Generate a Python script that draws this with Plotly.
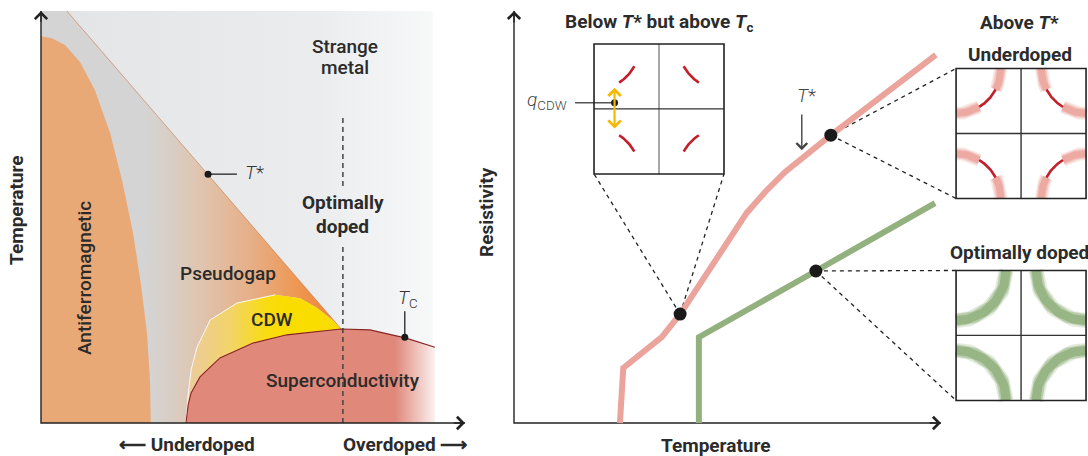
import numpy as np
import plotly.graph_objects as go

W, H = 1088, 456

# ---------------- data: left panel (doping vs temperature, schematic units) ----------------
afm_doping = [0, 2.6, 5.7, 9.2, 12.7, 16.3, 19.1, 21.7, 23.6, 25.0, 25.7, 25.9]
afm_temp = [93.9, 93.4, 91.7, 87.6, 80.8, 70.4, 59.0, 46.1, 33.5, 21.8, 10.4, 0]
tstar_doping = [6.1, 70.8]
tstar_temp = [100, 22.8]
cdw_doping = [34.2, 34.7, 35.4, 36.8, 39.9, 46.2, 55.2, 61.1, 65.1, 68.9, 70.8]
cdw_temp = [0, 6.8, 12.9, 18.4, 25.0, 29.1, 31.1, 30.3, 27.9, 24.8, 22.8]
sc_doping = [34.2, 34.7, 35.4, 37.5, 42.2, 50.0, 58.0, 70.8, 77.6, 86.1, 92.9]
sc_temp = [0, 4.4, 7.3, 11.2, 15.8, 19.4, 21.4, 22.8, 22.6, 20.6, 18.4]
optimal_doping = 71.2
tstar_mark = (39.4, 60.4)
tc_mark = (85.8, 20.8)

# ---------------- data: right panel (temperature vs resistivity) ----------------
under_T = [24.8, 25.6, 34.6, 38.9, 54.5, 58.8, 63.5, 74.2, 98.8]
under_rho = [0, 12.9, 20.1, 25.5, 49.2, 54.1, 58.8, 67.4, 86.2]
opt_T = [43.3, 43.3, 70.7, 98.6]
opt_rho = [0, 20.1, 35.6, 51.5]
cdw_point = (38.9, 25.5)
tstar_point = (74.2, 67.4)
opt_point = (70.7, 35.6)

# Fermi-surface schematic: arc radius (fraction of half Brillouin zone) and angle spans (deg)
cdw_arc_r, cdw_arc_span = 0.71, (29, 57)
under_arc_r, under_red_span, under_pink_spans = 0.69, (28, 59), [(0, 28), (59, 90)]
opt_arc_r, opt_span = 0.77, (0, 90)

# ---------------- layout constants ----------------
SX_L, SY_L = 4.24, 4.12     # px per unit, left
S_R = 4.27                  # px per unit, right
HALF = 15.22                # inset half size (right-panel units)
C_CDW = (33.96, 73.55)
C_UND = (118.75, 67.8)
C_OPT = (118.75, 20.5)

INK = "#2b2b2b"
FONT = "Roboto"

fig = go.Figure()
L = dict(xaxis="x", yaxis="y")
R = dict(xaxis="x2", yaxis="y2")

def poly(xs, ys, **kw):
    return go.Scatter(x=xs, y=ys, mode="lines", fill="toself", line=dict(width=0),
                      hoverinfo="skip", showlegend=False, **kw)

# strange metal background
fig.add_trace(poly([0, 0, 92.4, 92.4], [0, 100, 100, 0],
                   fillgradient=dict(type="horizontal", start=0, stop=92.4,
                                     colorscale=[[0, "#E3E4E6"], [0.7, "#EBECEE"], [0.88, "#F2F3F4"],
                                                 [1, "#F7F8F8"]]), **L))
# pseudogap
pg_x = [0, 0] + tstar_doping + cdw_doping[::-1]
pg_y = [0, 100] + tstar_temp + cdw_temp[::-1]
fig.add_trace(poly(pg_x, pg_y,
                   fillgradient=dict(type="horizontal", start=24.0, stop=65.6,
                                     colorscale=[[0, "#D4D4D4"], [0.05, "#D5D3D1"], [0.32, "#DFC5B0"],
                                                 [0.61, "#E6AF88"], [0.89, "#EE9650"], [1, "#EF8C40"]]), **L))
# antiferromagnet
fig.add_trace(poly(afm_doping + [0], afm_temp + [0], fillcolor="#E8A977", **L))
# CDW
cdw_px = cdw_doping + sc_doping[:8][::-1]
cdw_py = cdw_temp + sc_temp[:8][::-1]
fig.add_trace(poly(cdw_px, cdw_py,
                   fillgradient=dict(type="horizontal", start=34.2, stop=58,
                                     colorscale=[[0, "#EBCBA2"], [0.45, "#F2D466"], [0.8, "#F9DC10"], [1, "#FADD00"]]), **L))
# superconductivity
fig.add_trace(poly(sc_doping + [sc_doping[-1]], sc_temp + [0],
                   fillgradient=dict(type="horizontal", start=34.2, stop=93.0,
                                     colorscale=[[0, "#E0887A"], [0.84, "#E0897B"], [1, "#FBF2F0"]]), **L))
# edges
fig.add_trace(go.Scatter(x=tstar_doping, y=tstar_temp, mode="lines",
                         line=dict(color="rgba(196,110,60,0.55)", width=1), hoverinfo="skip", showlegend=False, **L))
fig.add_trace(go.Scatter(x=cdw_doping[:7], y=cdw_temp[:7], mode="lines",
                         line=dict(color="rgba(255,255,255,0.85)", width=1), hoverinfo="skip", showlegend=False, **L))
fig.add_trace(go.Scatter(x=sc_doping, y=sc_temp, mode="lines",
                         line=dict(color="#8A2323", width=1.1), hoverinfo="skip", showlegend=False, **L))
# optimal doping dashed line
fig.add_trace(go.Scatter(x=[optimal_doping] * 5, y=[74.0, 57.3, None, 42.7, 0], mode="lines",
                         line=dict(color="#444", width=1.5, dash="5px,4px"), hoverinfo="skip", showlegend=False, **L))
# T* and Tc markers
fig.add_trace(go.Scatter(x=[tstar_mark[0], tstar_mark[0] + 6.8], y=[tstar_mark[1]] * 2, mode="lines",
                         line=dict(color="#222", width=1.3), hoverinfo="skip", showlegend=False, **L))
fig.add_trace(go.Scatter(x=[tc_mark[0]] * 2, y=[tc_mark[1], tc_mark[1] + 6.3], mode="lines",
                         line=dict(color="#222", width=1.3), hoverinfo="skip", showlegend=False, **L))
fig.add_trace(go.Scatter(x=[tstar_mark[0], tc_mark[0]], y=[tstar_mark[1], tc_mark[1]], mode="markers",
                         marker=dict(color="#1a1a1a", size=7), hoverinfo="skip", showlegend=False, **L))
# left axes
fig.add_trace(go.Scatter(x=[0, 0, 100], y=[100, 0, 0], mode="lines",
                         line=dict(color="#222", width=1.4), hoverinfo="skip", showlegend=False, **L))

# ---------------- right panel ----------------
fig.add_trace(go.Scatter(x=[0, 0, 100], y=[96.5, 0, 0], mode="lines",
                         line=dict(color="#222", width=1.4), hoverinfo="skip", showlegend=False, **R))

def box_xy(c):
    return c[0] - HALF, c[0] + HALF, c[1] - HALF, c[1] + HALF

# dashed connectors
conn_x, conn_y = [], []
x0, x1, y0, y1 = box_xy(C_CDW)
for (px, py) in [(x0, y0), (x1, y0)]:
    conn_x += [cdw_point[0], px, None]; conn_y += [cdw_point[1], py, None]
x0, x1, y0, y1 = box_xy(C_UND)
for (px, py) in [(x0, y1), (x0, y0)]:
    conn_x += [tstar_point[0], px, None]; conn_y += [tstar_point[1], py, None]
x0, x1, y0, y1 = box_xy(C_OPT)
for (px, py) in [(x0, y1), (x0, y0)]:
    conn_x += [opt_point[0], px, None]; conn_y += [opt_point[1], py, None]
fig.add_trace(go.Scatter(x=conn_x, y=conn_y, mode="lines",
                         line=dict(color="#222", width=1.3, dash="4px,4px"), hoverinfo="skip", showlegend=False, **R))

fig.add_trace(go.Scatter(x=under_T, y=under_rho, mode="lines",
                         line=dict(color="#EBA49C", width=6), hoverinfo="skip", showlegend=False, **R))
fig.add_trace(go.Scatter(x=opt_T, y=opt_rho, mode="lines",
                         line=dict(color="#93B17E", width=6), hoverinfo="skip", showlegend=False, **R))
fig.add_trace(go.Scatter(x=[cdw_point[0], tstar_point[0], opt_point[0]],
                         y=[cdw_point[1], tstar_point[1], opt_point[1]], mode="markers",
                         marker=dict(color="#1a1a1a", size=13), hoverinfo="skip", showlegend=False, **R))

# inset arcs
CORNERS = [(-1, 1), (1, 1), (-1, -1), (1, -1)]

def arc(center, r, span, corner, n=40):
    th = np.radians(np.linspace(span[0], span[1], n))
    sx, sy = corner
    kx = sx * (1 - r * np.cos(th))
    ky = sy * (1 - r * np.sin(th))
    return center[0] + HALF * kx, center[1] + HALF * ky

def add_arcs(center, r, spans, color, widths_alpha):
    for w, a in widths_alpha:
        xs, ys = [], []
        for cn in CORNERS:
            for sp in spans:
                ax_, ay_ = arc(center, r, sp, cn)
                xs += list(ax_) + [None]; ys += list(ay_) + [None]
        fig.add_trace(go.Scatter(x=xs, y=ys, mode="lines", opacity=a,
                                 line=dict(color=color, width=w), hoverinfo="skip", showlegend=False, **R))

add_arcs(C_OPT, opt_arc_r, [opt_span], "#93B27F", [(15, 0.25), (12, 0.5), (9, 0.85)])
add_arcs(C_UND, under_arc_r, under_pink_spans, "#EBA39B", [(13, 0.25), (10, 0.45), (7, 0.8)])
add_arcs(C_UND, under_arc_r, [under_red_span], "#C41E2A", [(2.6, 1)])
add_arcs(C_CDW, cdw_arc_r, [cdw_arc_span], "#C41E2A", [(2.6, 1)])

shapes = []
for c, mid_col in [(C_CDW, "#777"), (C_UND, "#222"), (C_OPT, "#222")]:
    x0, x1, y0, y1 = box_xy(c)
    shapes.append(dict(type="line", xref="x2", yref="y2", x0=c[0], x1=c[0], y0=y0, y1=y1,
                       line=dict(color=mid_col, width=1.3)))
    shapes.append(dict(type="line", xref="x2", yref="y2", x0=x0, x1=x1, y0=c[1], y1=c[1],
                       line=dict(color="#333", width=1.3)))
    shapes.append(dict(type="rect", xref="x2", yref="y2", x0=x0, x1=x1, y0=y0, y1=y1,
                       line=dict(color="#222", width=1.6)))

# q_CDW marker
q_x, q_y = 23.55, 75.0
fig.add_trace(go.Scatter(x=[14.3, q_x], y=[q_y, q_y], mode="lines",
                         line=dict(color="#555", width=1.5), hoverinfo="skip", showlegend=False, **R))

anns = []

def txt(x, y, s, ref="", size=19, weight=500, color=INK, angle=0, xanchor="center"):
    anns.append(dict(x=x, y=y, xref="x" + ref, yref="y" + ref, text=s, showarrow=False,
                     textangle=angle, xanchor=xanchor, yanchor="middle",
                     font=dict(family=FONT, size=size, color=color, weight=weight)))

def arrow(x, y, ax, ay, ref, color="#222", width=1.4, size=1.7, side="end", head=4):
    anns.append(dict(x=x, y=y, ax=ax, ay=ay, xref="x" + ref, yref="y" + ref,
                     axref="x" + ref, ayref="y" + ref, text="", showarrow=True,
                     arrowhead=head, startarrowhead=head, arrowsize=size, startarrowsize=size,
                     arrowwidth=width, arrowcolor=color, arrowside=side, standoff=0, startstandoff=0))

# left labels
txt(71.7, 91.3, "Strange")
txt(71.7, 86.2, "metal")
txt(71.2, 53.4, "Optimally", weight=700)
txt(71.2, 47.6, "doped", weight=700)
txt(44.1, 36.4, "Pseudogap")
txt(54.5, 25.2, "CDW")
txt(71.2, 10.2, "Superconductivity")
txt(10.4, 35.2, "Antiferromagnetic", angle=-90)
txt(-5.9, 51.7, "Temperature", weight=700, angle=-90)
txt(47.6, 60.7, "<i>T</i>*", weight=300, color="#333", xanchor="left")
txt(86.6, 30.3, "<i>T</i><sub>C</sub>", weight=300, color="#333")
txt(34.4, -5.3, "⟵ Underdoped", weight=700)
txt(85.8, -5.3, "Overdoped ⟶", weight=700)
arrow(0, 100, 0, 97, "")
arrow(100, 0, 97, 0, "")

# right labels
txt(-6.6, 49.4, "Resistivity", ref="2", weight=700, angle=-90)
txt(47.3, -5.2, "Temperature", ref="2", weight=700)
txt(34.0, 93.9, "Below <i>T</i>* but above <i>T</i><sub>c</sub>", ref="2", weight=700)
txt(118.5, 93.9, "Above <i>T</i>*", ref="2", weight=700)
txt(118.5, 86.2, "Underdoped", ref="2", weight=700)
txt(118.5, 40.0, "Optimally doped", ref="2", weight=700)
txt(68.4, 76.8, "<i>T</i>*", ref="2", weight=300, color="#444")
txt(12.9, 75.6, "<i>q</i><sub>CDW</sub>", ref="2", weight=300, color="#444", xanchor="right")
arrow(67.4, 63.9, 67.4, 72.6, "2", color="#444", width=1.4, size=1.5)
arrow(0, 96.5, 0, 93.5, "2")
arrow(100, 0, 97, 0, "2")
arrow(q_x, 78.5, q_x, 68.6, "2", color="#F5B800", width=2.2, size=1.1, side="end+start")

fig.add_trace(go.Scatter(x=[q_x], y=[q_y], mode="markers", marker=dict(color="#1a1a1a", size=7),
                         hoverinfo="skip", showlegend=False, **R))

fig.update_layout(
    width=W, height=H, margin=dict(l=0, r=0, t=0, b=0),
    paper_bgcolor="white", plot_bgcolor="rgba(0,0,0,0)",
    showlegend=False,
    xaxis=dict(domain=[0, 468 / W], range=[-41 / SX_L, (468 - 41) / SX_L], visible=False, fixedrange=True),
    yaxis=dict(domain=[0, 1], range=[-33 / SY_L, 423 / SY_L], visible=False, fixedrange=True),
    xaxis2=dict(domain=[472 / W, 1], range=[-42 / S_R, 574 / S_R], visible=False, fixedrange=True),
    yaxis2=dict(domain=[0, 1], range=[-33 / S_R, 423 / S_R], visible=False, fixedrange=True, anchor="x2"),
    shapes=shapes, annotations=anns,
)

fig.write_html("out.html", config={"displayModeBar": False},
               post_script="document.body.style.margin='0';document.body.style.overflow='hidden';")
